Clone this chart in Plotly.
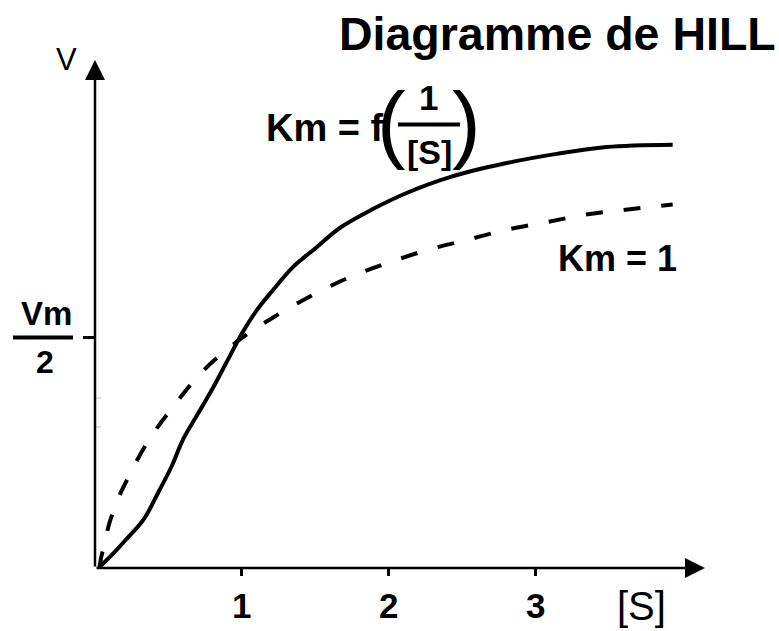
import plotly.graph_objects as go

# Substrate concentration [S] and reaction rate V (in units of Vm)
s_hill = [0.04, 0.12, 0.22, 0.33, 0.44, 0.52, 0.60, 0.70, 0.80, 0.90, 1.00, 1.10, 1.20,
          1.35, 1.50, 1.67, 1.89, 2.12, 2.42, 2.80, 3.14, 3.48, 3.93]
v_hill = [0.005, 0.03, 0.065, 0.105, 0.17, 0.22, 0.28, 0.335, 0.39, 0.45, 0.51, 0.56, 0.60,
          0.655, 0.695, 0.74, 0.78, 0.815, 0.85, 0.88, 0.90, 0.915, 0.92]

s_mm = [0.03, 0.04, 0.07, 0.10, 0.17, 0.20, 0.35, 0.53, 0.74, 1.00, 1.22, 1.48, 1.74,
        1.99, 2.26, 2.53, 2.80, 3.08, 3.32, 3.59, 3.93]
v_mm = [0.0, 0.02, 0.06, 0.10, 0.16, 0.18, 0.27, 0.35, 0.43, 0.50, 0.546, 0.593, 0.633,
        0.663, 0.691, 0.713, 0.735, 0.752, 0.767, 0.778, 0.79]

x_ticks = [1, 2, 3]
x_tick_text = ["1", "2", "3"]
x_max = 4.15
y_max = 1.104
half_vm = 0.5

W, H = 779, 631
L, R, T, B = 95, 74, 60, 63
PW, PH = W - L - R, H - T - B


def px(x):
    return (x - L) / PW


def py(y):
    return (H - B - y) / PH


FONT = "Liberation Sans, Arial, sans-serif"

fig = go.Figure()
fig.add_trace(go.Scatter(x=s_hill, y=v_hill, mode="lines", line=dict(color="black", width=4),
                         line_shape="spline", showlegend=False, hoverinfo="skip"))
fig.add_trace(go.Scatter(x=s_mm, y=v_mm, mode="lines",
                         line=dict(color="black", width=4, dash="17px,21px"),
                         line_shape="spline", showlegend=False, hoverinfo="skip"))

ann = []
# axes drawn as arrows
ann.append(dict(x=x_max, y=0, ax=0, ay=0, xref="x", yref="y", axref="x", ayref="y",
                text="", showarrow=True, arrowhead=2, arrowsize=1.6, arrowwidth=2.5,
                arrowcolor="black"))
ann.append(dict(x=0, y=y_max, ax=0, ay=0, xref="x", yref="y", axref="x", ayref="y",
                text="", showarrow=True, arrowhead=2, arrowsize=1.6, arrowwidth=2.5,
                arrowcolor="black"))


def label(text, x, y, size, bold=True, xanchor="center"):
    ann.append(dict(text=f"<b>{text}</b>" if bold else text, x=px(x), y=py(y),
                    xref="paper", yref="paper", xanchor=xanchor, yanchor="middle",
                    showarrow=False, font=dict(family=FONT, size=size, color="black")))


# x tick labels
for v, t in zip(x_ticks, x_tick_text):
    ann.append(dict(text=f"<b>{t}</b>", x=v, y=py(605), xref="x", yref="paper",
                    xanchor="center", yanchor="middle", showarrow=False,
                    font=dict(family=FONT, size=35, color="black")))

label("Diagramme de HILL", 557, 34, 46.5)
label("V", 66, 59, 31, bold=False)
label("[S]", 641, 606, 40, bold=False)
label("Km = f", 264, 128, 38, xanchor="left")
label("(", 391, 122, 86, bold=False)
label("1", 428, 97, 35)
label("[S]", 429, 152, 34)
label(")", 466, 122, 86, bold=False)
label("Km = 1", 556, 258, 36, xanchor="left")
label("Vm", 46, 313, 33)
label("2", 45, 362, 32)

shapes = [
    dict(type="line", xref="paper", yref="paper", x0=px(398), x1=px(460), y0=py(124.5), y1=py(124.5),
         line=dict(color="black", width=4)),
    dict(type="line", xref="paper", yref="paper", x0=px(13), x1=px(73), y0=py(337.5), y1=py(337.5),
         line=dict(color="black", width=4)),
    dict(type="line", xref="paper", yref="paper", x0=px(95), x1=px(101), y0=py(398), y1=py(398),
         line=dict(color="#bbbbbb", width=1)),
    dict(type="line", xref="paper", yref="paper", x0=px(95), x1=px(101), y0=py(427), y1=py(427),
         line=dict(color="#bbbbbb", width=1)),
]

fig.update_layout(
    width=W, height=H, margin=dict(l=L, r=R, t=T, b=B),
    paper_bgcolor="white", plot_bgcolor="white",
    annotations=ann, shapes=shapes,
    xaxis=dict(range=[0, x_max], showgrid=False, zeroline=False, showline=False,
               tickvals=x_ticks, ticktext=["", "", ""], ticks="outside", ticklen=7,
               tickwidth=2.5, tickcolor="black"),
    yaxis=dict(range=[0, y_max], showgrid=False, zeroline=False, showline=False,
               tickvals=[half_vm], ticktext=[""], ticks="outside", ticklen=11,
               tickwidth=2.5, tickcolor="black"),
)

fig.write_html("out.html")
